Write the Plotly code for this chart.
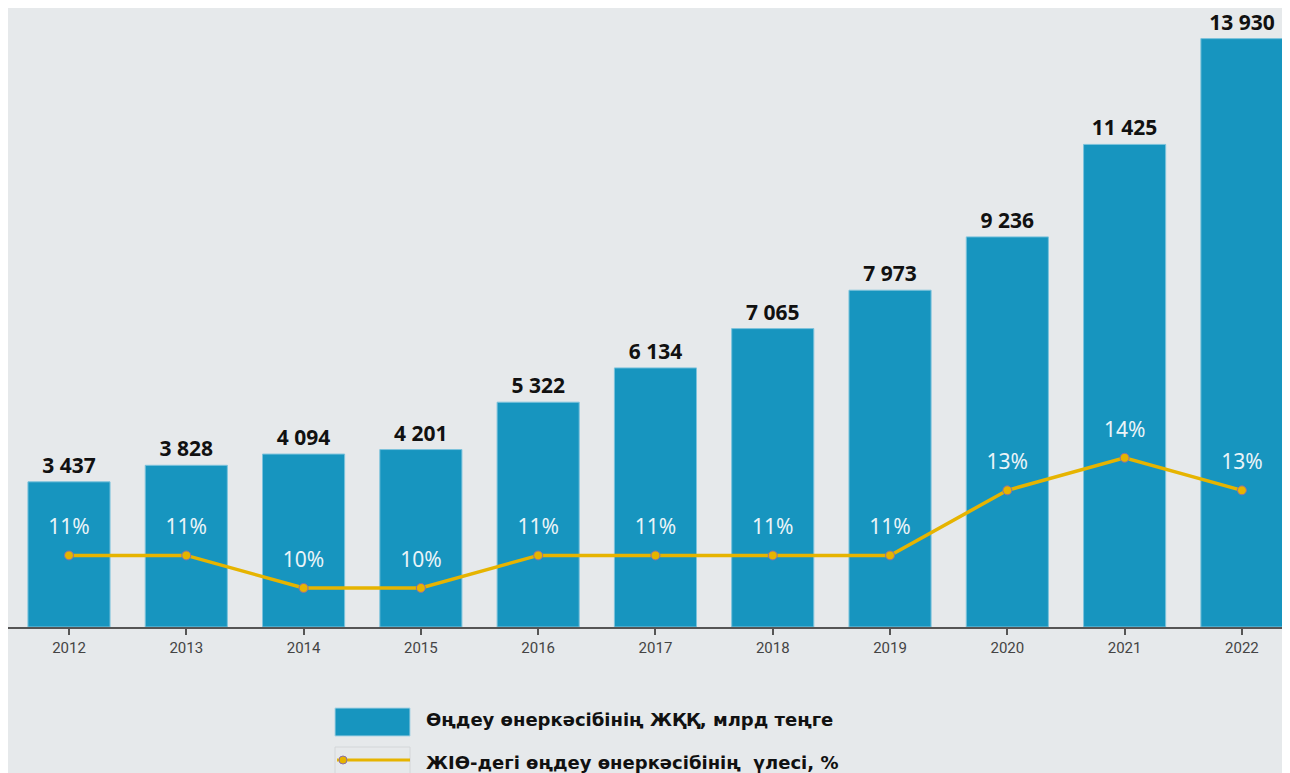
import plotly.graph_objects as go

years = ["2012", "2013", "2014", "2015", "2016", "2017", "2018", "2019", "2020", "2021", "2022"]
gva = [3437, 3828, 4094, 4201, 5322, 6134, 7065, 7973, 9236, 11425, 13930]
share = [11, 11, 10, 10, 11, 11, 11, 11, 13, 14, 13]
legend_bar = "Өңдеу өнеркәсібінің ЖҚҚ, млрд теңге"
legend_line = "ЖІӨ-дегі өңдеу өнеркәсібінің  үлесі, %"

BAR = "#1795bf"
GOLD = "#e6b400"
BG = "#e6e9eb"

OFF = 8  # page offset of the figure inside the browser page
W, H = 1290, 773
L, R, T, B = 0, 8, 4, 154
PW, PH = W - L - R, H - T - B


def px(x):
    return (x - OFF - L) / PW


def py(y):
    return (H - B - (y - OFF)) / PH


fig = go.Figure()
fig.add_trace(go.Bar(
    x=years, y=gva,
    marker=dict(color=BAR, line=dict(color="#7cc3dc", width=1)),
    text=[f"{v:,}".replace(",", " ") for v in gva],
    textposition="outside",
    textfont=dict(family="Noto Sans", size=21, color="#111111", weight="bold"),
    cliponaxis=False,
    showlegend=False,
))
fig.add_trace(go.Scatter(
    x=years, y=share, yaxis="y2",
    mode="lines+markers",
    line=dict(color=GOLD, width=3.5),
    marker=dict(color=GOLD, size=9, line=dict(color="#8a6fa8", width=1)),
    cliponaxis=False,
    showlegend=False,
))
fig.add_trace(go.Scatter(
    x=years, y=share, yaxis="y2",
    mode="markers+text",
    marker=dict(color="rgba(0,0,0,0)", size=24),
    text=[f"{v}%" for v in share],
    textposition="top center",
    textfont=dict(family="Noto Sans", size=21, color="#eaf4f8"),
    cliponaxis=False,
    hoverinfo="skip",
    showlegend=False,
))

fig.update_layout(
    width=W, height=H,
    margin=dict(l=L, r=R, t=T, b=B),
    paper_bgcolor=BG, plot_bgcolor=BG,
    bargap=0.30,
    xaxis=dict(
        type="category", range=[-0.52, 10.41],
        showline=True, linecolor="#555555", linewidth=2,
        ticks="outside", ticklen=6, tickcolor="#555555", tickwidth=1.5,
        tickfont=dict(family="Roboto", size=15, color="#444444"),
        showgrid=False, zeroline=False,
    ),
    yaxis=dict(range=[0, 14560], visible=False, showgrid=False, zeroline=False),
    yaxis2=dict(range=[8.8, 27.7], overlaying="y", visible=False,
                showgrid=False, zeroline=False),
)

# Custom legend
fig.add_shape(type="rect", xref="paper", yref="paper",
              x0=px(335), x1=px(410), y0=py(736), y1=py(708),
              fillcolor=BAR, line=dict(color="#a9d3e4", width=1))
fig.add_shape(type="rect", xref="paper", yref="paper",
              x0=px(335), x1=px(410), y0=py(776), y1=py(747),
              fillcolor=BG, line=dict(color="#d3d6d8", width=1))
fig.add_shape(type="line", xref="paper", yref="paper",
              x0=px(337), x1=px(410), y0=py(760), y1=py(760),
              line=dict(color=GOLD, width=3))
fig.add_shape(type="circle", xref="paper", yref="paper",
              x0=px(339), x1=px(347), y0=py(764), y1=py(756),
              fillcolor=GOLD, line=dict(color="#8a6fa8", width=1))
fig.add_annotation(xref="paper", yref="paper", x=px(424), y=py(719),
                   text=legend_bar, showarrow=False, xanchor="left", yanchor="middle",
                   font=dict(family="DejaVu Sans", size=18, color="#111111", weight="bold"))
fig.add_annotation(xref="paper", yref="paper", x=px(424), y=py(762),
                   text=legend_line, showarrow=False, xanchor="left", yanchor="middle",
                   font=dict(family="DejaVu Sans", size=18, color="#111111", weight="bold"))

fig.write_html("out.html")
